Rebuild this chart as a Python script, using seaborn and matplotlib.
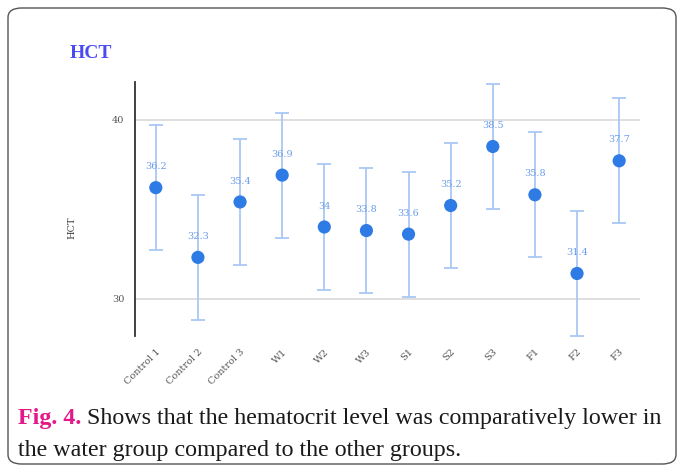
import numpy as np
import pandas as pd
import seaborn as sns
import matplotlib.pyplot as plt
from matplotlib.patches import FancyBboxPatch

# data
groups = ["Control 1", "Control 2", "Control 3", "W1", "W2", "W3",
          "S1", "S2", "S3", "F1", "F2", "F3"]
hct = [36.2, 32.3, 35.4, 36.9, 34, 33.8, 33.6, 35.2, 38.5, 35.8, 31.4, 37.7]
hct_sd = [3.5, 3.5, 3.5, 3.5, 3.5, 3.5, 3.5, 3.5, 3.5, 3.5, 3.5, 3.5]

df = pd.DataFrame({"group": groups, "HCT": hct, "sd": hct_sd})

sns.set_style("white")
plt.rcParams["font.family"] = ["DejaVu Serif"]

fig = plt.figure(figsize=(6.84, 4.72), dpi=100)
ax = fig.add_axes([0.197, 0.288, 0.739, 0.538])

point_col = "#2f7be6"
err_col = "#a9c7f4"
lab_col = "#6d9de9"

x = np.arange(len(groups))
ax.errorbar(x, df["HCT"], yerr=df["sd"], fmt="none", ecolor=err_col,
            elinewidth=1.3, capsize=5, capthick=1.3, zorder=2)
sns.scatterplot(data=df, x="group", y="HCT", ax=ax, color=point_col,
                s=90, edgecolor="none", zorder=3, legend=False)

for i, v in enumerate(hct):
    lab = f"{v:g}"
    ax.annotate(lab, (i, v), xytext=(0, 15), textcoords="offset points",
                ha="center", va="center", fontsize=7, color=lab_col)

ax.set_xlim(-0.5, len(groups) - 0.5)
ax.set_ylim(27.9, 42.1)
ax.set_yticks([30, 40])
ax.yaxis.grid(True, color="#d9d9d9", linewidth=1.2)
ax.set_axisbelow(True)
for s in ["top", "right", "bottom"]:
    ax.spines[s].set_visible(False)
ax.spines["left"].set_color("#333333")
ax.spines["left"].set_linewidth(1.3)
ax.tick_params(axis="y", direction="inout", length=8, width=1.2,
               labelsize=7, labelcolor="#555555", color="#333333")
ax.tick_params(axis="x", length=0, labelsize=7, labelcolor="#555555", pad=8)
plt.setp(ax.get_xticklabels(), rotation=45, ha="right", rotation_mode="anchor")
ax.set_xlabel("")
ax.set_ylabel("")

fig.text(70 / 684, 1 - 53 / 472, "HCT", color="#4b4bf2", fontsize=14,
         fontweight="bold", fontfamily="Liberation Serif", va="center")
fig.text(72 / 684, 1 - 228 / 472, "HCT", rotation=90, fontsize=7,
         color="#444444", va="center", ha="center")

# caption
cap_size = 17.3
t1 = fig.text(18 / 684, 1 - 424 / 472, "Fig. 4.", color="#e3198a",
              fontsize=cap_size, fontweight="bold", fontfamily="Liberation Serif")
ax.annotate(" Shows that the hematocrit level was comparatively lower in",
            xy=(1, 0), xycoords=t1, ha="left", va="bottom",
            fontsize=cap_size, fontfamily="Liberation Serif", color="#1a1a1a",
            annotation_clip=False)
fig.text(18 / 684, 1 - 456 / 472,
         "the water group compared to the other groups.",
         fontsize=cap_size, fontfamily="Liberation Serif", color="#1a1a1a")

box = FancyBboxPatch((8 / 684, 8 / 472), 668 / 684, 456 / 472,
                     boxstyle="round,pad=0,rounding_size=0.02",
                     transform=fig.transFigure, fill=False,
                     edgecolor="#555555", linewidth=1)
fig.add_artist(box)

fig.savefig("out.png", dpi=100)
